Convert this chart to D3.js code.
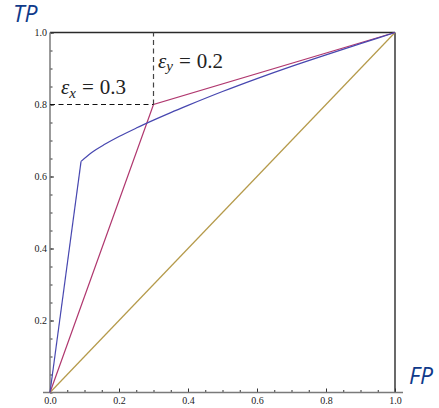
<!DOCTYPE html>
<html><head><meta charset="utf-8">
<script src="https://cdn.jsdelivr.net/npm/d3@7"></script>
<style>body{margin:0;background:#fff}svg{display:block}</style>
</head><body>
<svg id="c" width="439" height="408"></svg>
<script>
// ---- data ----
const blueCurve = [[0,0],[0.09,0.642],[0.12,0.666],[0.16,0.690],[0.2,0.711],[0.25,0.7345],[0.3,0.7565],[0.35,0.7775],[0.4,0.7975],[0.5,0.836],[0.6,0.872],[0.7,0.906],[0.8,0.938],[0.9,0.969],[1,1]];
const pinkCurve = [[0,0],[0.3,0.8],[1,1]];
const diagonal = [[0,0],[1,1]];
const epsX = 0.3, epsY = 0.2;
const xLabels = [0,0.2,0.4,0.6,0.8,1.0];
const yLabels = [0.2,0.4,0.6,0.8,1.0];
const minorTicks = d3.range(0,21).map(i=>i*0.05);

const svg = d3.select('#c');
const x = d3.scaleLinear().domain([0,1]).range([50,395]);
const y = d3.scaleLinear().domain([0,1]).range([392.5,32.5]);
const SERIF = "'Liberation Serif','DejaVu Serif',serif";

// frame (top & right)
svg.append('line').attr('x1',x(0)).attr('x2',x(1)).attr('y1',y(1)).attr('y2',y(1)).attr('stroke','#2a2a2a').attr('stroke-width',1.4);
svg.append('line').attr('x1',x(1)).attr('x2',x(1)).attr('y1',y(1)).attr('y2',y(0)).attr('stroke','#2a2a2a').attr('stroke-width',1.4);

// minor ticks
svg.append('g').attr('transform',`translate(0,${y(0)})`)
  .call(d3.axisBottom(x).tickValues(minorTicks).tickSize(-2.5).tickFormat(''))
  .call(g=>{g.select('.domain').remove();g.selectAll('line').attr('stroke','#333');});
svg.append('g').attr('transform',`translate(${x(0)},0)`)
  .call(d3.axisLeft(y).tickValues(minorTicks).tickSize(-2.5).tickFormat(''))
  .call(g=>{g.select('.domain').remove();g.selectAll('line').attr('stroke','#333');});

// major axes
const xa = svg.append('g').attr('transform',`translate(0,${y(0)})`)
  .call(d3.axisBottom(x).tickValues(xLabels).tickSizeInner(-4).tickSizeOuter(0).tickPadding(4).tickFormat(d3.format('.1f')));
xa.select('.domain').remove();
xa.selectAll('line').attr('stroke','#333');
xa.selectAll('text').attr('font-family',SERIF).attr('font-size',10).attr('fill','#222');

const ya = svg.append('g').attr('transform',`translate(${x(0)},0)`)
  .call(d3.axisLeft(y).tickValues(yLabels).tickSizeInner(-4).tickSizeOuter(0).tickPadding(3).tickFormat(d3.format('.1f')));
ya.select('.domain').remove();
ya.selectAll('line').attr('stroke','#333');
ya.selectAll('text').attr('font-family',SERIF).attr('font-size',10).attr('fill','#222');

// axis lines
svg.append('line').attr('x1',x(0)-7).attr('x2',x(1)+8).attr('y1',y(0)).attr('y2',y(0)).attr('stroke','#7a7a7a').attr('stroke-width',1.5);
svg.append('line').attr('x1',x(0)).attr('x2',x(0)).attr('y1',y(0)).attr('y2',y(1)).attr('stroke','#7a7a7a').attr('stroke-width',1.5);

// curves
const lin = d3.line().x(d=>x(d[0])).y(d=>y(d[1]));
const smooth = d3.line().x(d=>x(d[0])).y(d=>y(d[1])).curve(d3.curveMonotoneX);
svg.append('path').attr('d',lin(diagonal)).attr('fill','none').attr('stroke','#b59a4a').attr('stroke-width',1.2);
svg.append('path').attr('d',lin(pinkCurve)).attr('fill','none').attr('stroke','#b0386f').attr('stroke-width',1.2);
svg.append('path').attr('d',lin(blueCurve.slice(0,2))).attr('fill','none').attr('stroke','#4747b0').attr('stroke-width',1.2);
svg.append('path').attr('d',smooth(blueCurve.slice(1))).attr('fill','none').attr('stroke','#4747b0').attr('stroke-width',1.2);

// dashed guides
svg.append('line').attr('x1',x(0)).attr('x2',x(epsX)).attr('y1',y(1-epsY)).attr('y2',y(1-epsY))
  .attr('stroke','#111').attr('stroke-width',1.2).attr('stroke-dasharray','5,3.5');
svg.append('line').attr('x1',x(epsX)).attr('x2',x(epsX)).attr('y1',y(1-epsY)).attr('y2',y(1))
  .attr('stroke','#444').attr('stroke-width',1.2).attr('stroke-dasharray','5,3.5');

// annotations
function epsLabel(px, py, sub, val){
  const t = svg.append('text').attr('x',px).attr('y',py).attr('font-family',SERIF).attr('font-size',21).attr('fill','#222');
  t.append('tspan').attr('font-family',SERIF).attr('font-style','italic').text('ε');
  t.append('tspan').attr('font-family',SERIF).attr('font-style','italic').attr('font-size',15).attr('dy',3.5).text(sub);
  t.append('tspan').attr('font-family',SERIF).attr('dy',-3.5).attr('dx',6).text('=');
  t.append('tspan').attr('font-family',SERIF).attr('dx',6).text(val);
}
epsLabel(61, 94, 'x', '0.3');
epsLabel(158, 67.5, 'y', '0.2');

// axis titles
svg.append('text').attr('x',13).attr('y',22).attr('font-family','Open Sans').attr('font-style','italic').attr('font-size',23).attr('fill','#0f3a8a').text('TP');
svg.append('text').attr('x',409).attr('y',384).attr('font-family','Open Sans').attr('font-style','italic').attr('font-size',23).attr('fill','#0f3a8a').text('FP');
</script>
</body></html>
